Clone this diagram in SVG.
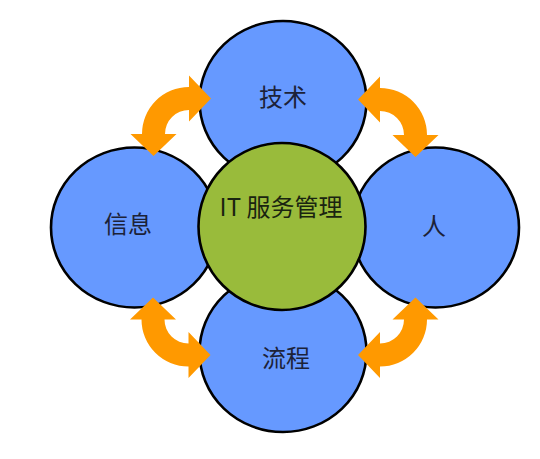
<svg xmlns="http://www.w3.org/2000/svg" xmlns:xlink="http://www.w3.org/1999/xlink" width="540" height="459" viewBox="0 0 540 459">
<style>
.outer{fill:#6699ff;stroke:#000;stroke-width:2.6}
.core{fill:#99bb3b;stroke:#000;stroke-width:2.6}
.lbl{font-family:"Noto Sans CJK SC","Noto Sans",sans-serif;font-size:24px;fill:#1c2238;text-anchor:middle}
.lblc{fill:#1a2410}
.arr{fill:#ff9900}
</style>
<defs>
<path id="carrow" d="M0,-47 L0,-58.5 L22,-35.5 L0,-12.5 L0,-24 A24,24 0 0 0 -24,0 L-12.5,0 L-35.5,22 L-58.5,0 L-47,0 A47,47 0 0 1 0,-47 Z"/>
</defs>
<rect width="540" height="459" fill="#fff"/>
<g id="node-tech">
<ellipse class="outer" cx="283" cy="101" rx="83.5" ry="80"/>
<text class="lbl" x="283" y="106">技术</text>
</g>
<g id="node-process">
<ellipse class="outer" cx="283" cy="352" rx="83.5" ry="80"/>
<text class="lbl" x="286" y="367">流程</text>
</g>
<g id="node-info">
<ellipse class="outer" cx="134.5" cy="227.5" rx="83.5" ry="80"/>
<text class="lbl" x="128" y="232.5">信息</text>
</g>
<g id="node-people">
<ellipse class="outer" cx="435.5" cy="227.5" rx="83.5" ry="80"/>
<text class="lbl" x="434" y="234.5">人</text>
</g>
<g id="node-itsm">
<circle class="core" cx="282" cy="226.5" r="83.5"/>
<text class="lbl lblc" x="281" y="216">IT 服务管理</text>
</g>
<g id="connectors" class="arr">
<use xlink:href="#carrow" transform="translate(189,134)"/>
<use xlink:href="#carrow" transform="translate(380,135) scale(-1,1)"/>
<use xlink:href="#carrow" transform="translate(188.5,319.5) scale(1,-1)"/>
<use xlink:href="#carrow" transform="translate(380,319.5) scale(-1,-1)"/>
</g>
</svg>
